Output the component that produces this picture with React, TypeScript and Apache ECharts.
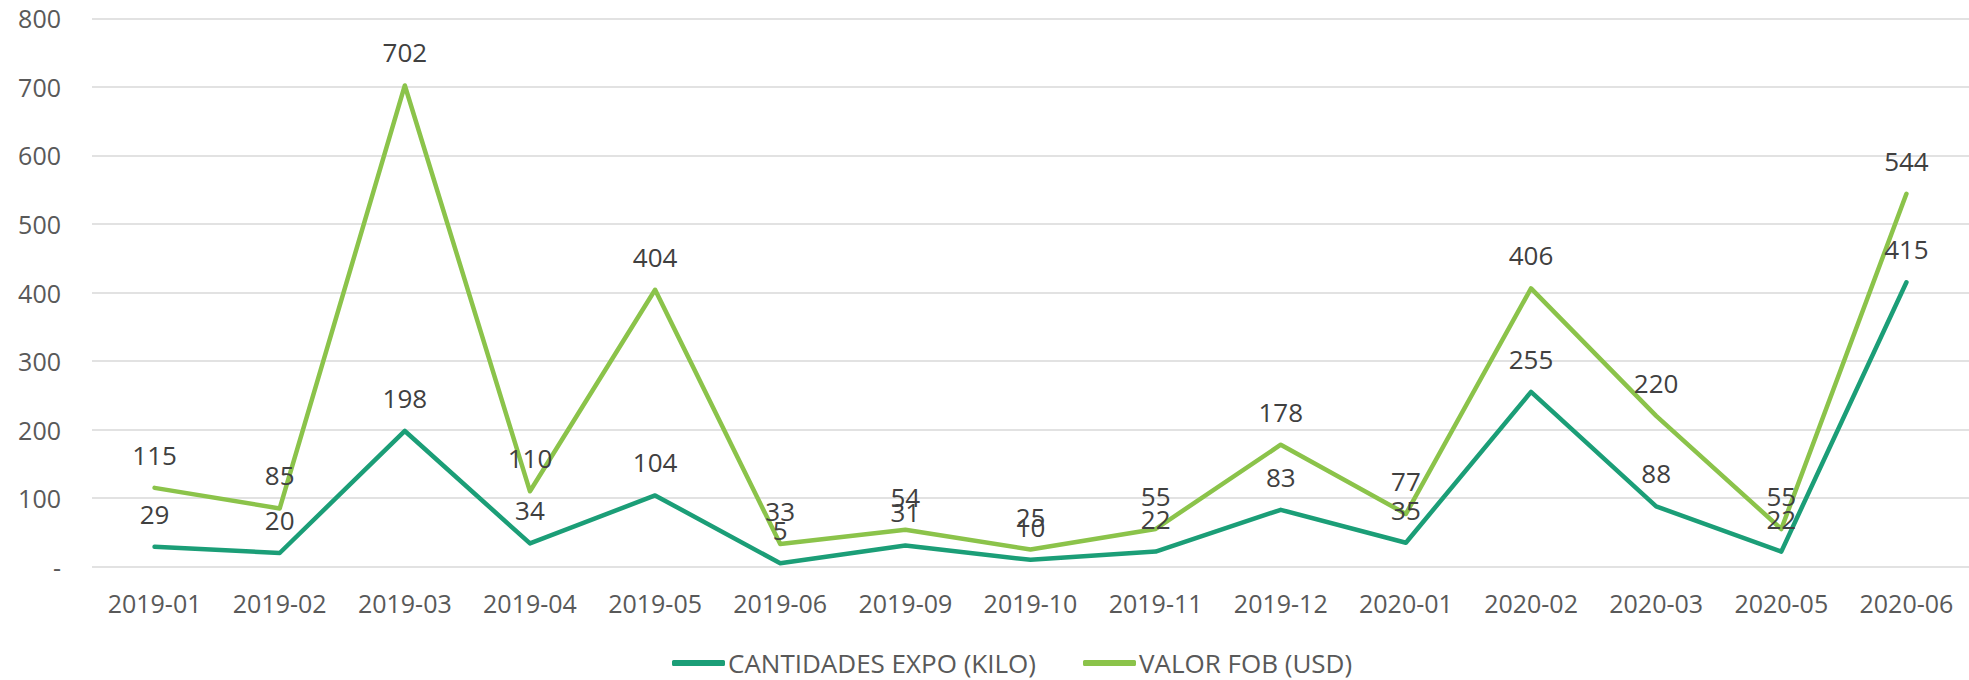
import React, { useEffect, useRef } from "react";
import * as echarts from "echarts";

const categories = ["2019-01", "2019-02", "2019-03", "2019-04", "2019-05", "2019-06", "2019-09", "2019-10", "2019-11", "2019-12", "2020-01", "2020-02", "2020-03", "2020-05", "2020-06"];
const cantidades = [29, 20, 198, 34, 104, 5, 31, 10, 22, 83, 35, 255, 88, 22, 415];
const valorFob = [115, 85, 702, 110, 404, 33, 54, 25, 55, 178, 77, 406, 220, 55, 544];
const seriesNames = ["CANTIDADES EXPO (KILO)", "VALOR FOB (USD)"];

const FONT = "'Open Sans', sans-serif";

export default function App() {
  const ref = useRef<HTMLDivElement>(null);
  useEffect(() => {
    if (!ref.current) return;
    const chart = echarts.init(ref.current, null, { renderer: "svg" });
    const label = {
      show: true,
      position: "top",
      distance: 20,
      color: "#404040",
      fontSize: 26,
      fontFamily: FONT,
    };
    chart.setOption({
      animation: false,
      backgroundColor: "#ffffff",
      grid: { left: 92, top: 18.3, width: 1894, bottom: 113.3, containLabel: false },
      legend: {
        top: 645,
        left: 667,
        icon: "roundRect",
        itemWidth: 53,
        itemHeight: 6,
        itemGap: 47,
        textStyle: { color: "#595959", fontSize: 26, fontFamily: FONT, padding: [0, 0, 0, -2] },
        data: seriesNames,
      },
      xAxis: {
        type: "category",
        data: categories,
        boundaryGap: true,
        axisLine: { show: false },
        axisTick: { show: false },
        axisLabel: { color: "#595959", fontSize: 25, fontFamily: FONT, margin: 24, interval: 0 },
      },
      yAxis: {
        type: "value",
        min: 0,
        max: 800,
        interval: 100,
        axisLine: { show: false },
        axisTick: { show: false },
        splitLine: { lineStyle: { color: "#d9d9d9", width: 1.5 } },
        axisLabel: {
          color: "#595959",
          fontSize: 25,
          fontFamily: FONT,
          margin: 31,
          formatter: (v: number) => (v === 0 ? "-" : String(v)),
        },
      },
      series: [
        {
          name: seriesNames[0],
          type: "line",
          data: cantidades,
          symbol: "circle",
          symbolSize: 0.1,
          lineStyle: { color: "#1b9e77", width: 4.5, cap: "round", join: "round" },
          itemStyle: { color: "#1b9e77" },
          label,
        },
        {
          name: seriesNames[1],
          type: "line",
          data: valorFob,
          symbol: "circle",
          symbolSize: 0.1,
          lineStyle: { color: "#8bc34a", width: 4.5, cap: "round", join: "round" },
          itemStyle: { color: "#8bc34a" },
          label,
        },
      ],
    });
    return () => chart.dispose();
  }, []);
  return (
    <div
      ref={ref}
      style={{ position: "absolute", left: 0, top: 0, width: 1969, height: 680 }}
    />
  );
}
